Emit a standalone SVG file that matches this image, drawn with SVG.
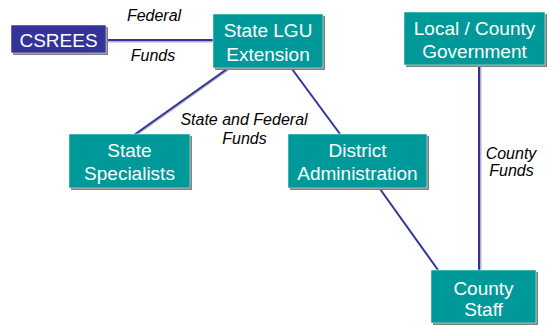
<svg xmlns="http://www.w3.org/2000/svg" width="556" height="325" viewBox="0 0 556 325">
<defs>
<style>
.box{fill:#009999;stroke:#ffffff;stroke-width:0.5}
.csr{fill:#333399;stroke:#ffffff;stroke-width:0.5}
.sh{fill:#808080}
.t{font-family:"Liberation Sans",Arial,sans-serif;font-size:19px;fill:#ffffff;text-anchor:middle}
.lab{font-family:"Liberation Sans",Arial,sans-serif;font-size:16px;font-style:italic;fill:#000000;text-anchor:middle}
.ln{stroke:#333399;stroke-width:2;fill:none}
.lns{stroke:#b0b0c8;stroke-width:2;fill:none}
</style>
</defs>
<rect width="556" height="325" fill="#ffffff"/>
<g id="connectors">
<line class="lns" x1="106" y1="41.5" x2="213" y2="41.5"/>
<line class="ln" x1="106" y1="40" x2="213" y2="40"/>
<line class="lns" x1="229" y1="69" x2="136" y2="135"/>
<line class="ln" x1="227" y1="69" x2="134" y2="135"/>
<line class="ln" x1="292" y1="69" x2="340" y2="134"/>
<line class="ln" x1="380" y1="189" x2="438" y2="270"/>
<line class="lns" x1="480.5" y1="66" x2="480.5" y2="270"/>
<line class="ln" x1="479" y1="66" x2="479" y2="270"/>
</g>
<g id="labels">
<text class="lab" x="154" y="20.5">Federal</text>
<text class="lab" x="153" y="61">Funds</text>
<text class="lab" x="244" y="125">State and Federal</text>
<text class="lab" x="244.5" y="144">Funds</text>
<text class="lab" x="511" y="159">County</text>
<text class="lab" x="511.5" y="176">Funds</text>
</g>
<g id="csrees">
<rect class="sh" x="13" y="27" width="95" height="28"/>
<rect class="csr" x="11" y="25" width="95" height="28"/>
<text class="t" x="58.5" y="46.5">CSREES</text>
</g>
<g id="state-lgu">
<rect class="sh" x="215" y="16" width="110" height="54"/>
<rect class="box" x="213" y="14" width="110" height="54"/>
<text class="t" x="268" y="36.5">State LGU</text>
<text class="t" x="268" y="60.5">Extension</text>
</g>
<g id="local-county">
<rect class="sh" x="406" y="14" width="141" height="53"/>
<rect class="box" x="404" y="12" width="141" height="53"/>
<text class="t" x="474.5" y="34.5">Local / County</text>
<text class="t" x="474.5" y="57.5">Government</text>
</g>
<g id="state-specialists">
<rect class="sh" x="71" y="136" width="121" height="54"/>
<rect class="box" x="69" y="134" width="121" height="54"/>
<text class="t" x="129.5" y="157">State</text>
<text class="t" x="129.5" y="179.5">Specialists</text>
</g>
<g id="district">
<rect class="sh" x="290" y="136" width="139" height="54"/>
<rect class="box" x="288" y="134" width="139" height="54"/>
<text class="t" x="357.5" y="157">District</text>
<text class="t" x="357.5" y="179.5">Administration</text>
</g>
<g id="county-staff">
<rect class="sh" x="433" y="272" width="105" height="53"/>
<rect class="box" x="431" y="270" width="105" height="53"/>
<text class="t" x="483.5" y="295">County</text>
<text class="t" x="483.5" y="316">Staff</text>
</g>
</svg>
